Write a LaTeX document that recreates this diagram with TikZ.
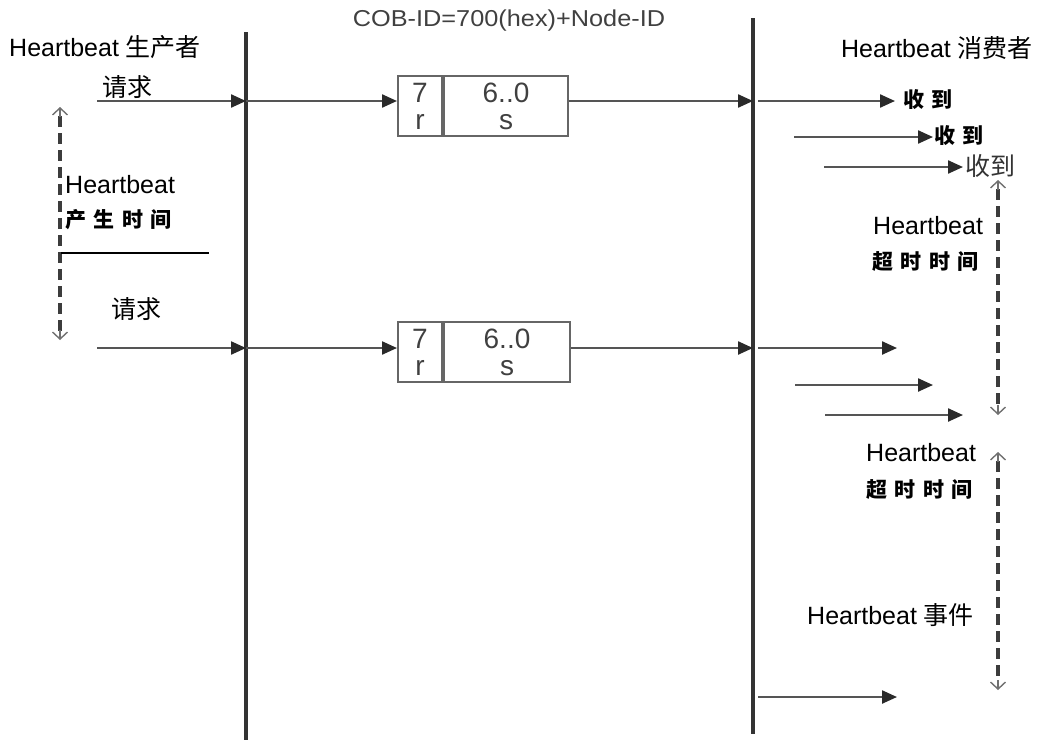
\documentclass[tikz,border=0pt]{standalone}
\usepackage{fontspec}
\setmainfont{Liberation Sans}
\newfontfamily\cjk{Noto Sans CJK SC}
\usetikzlibrary{arrows.meta}
\definecolor{linegray}{HTML}{555555}
\definecolor{headgray}{HTML}{2A2A2A}
\definecolor{dashgray}{HTML}{3C3C3C}
\definecolor{barbgray}{HTML}{707070}
\newcommand{\gp}{\hspace{7.5pt}}
\begin{document}
\begin{tikzpicture}[x=1pt,y=-1pt,
  txt/.style={inner sep=0pt,font=\fontsize{25}{28}\selectfont},
  cjkb/.style={inner sep=0pt,font=\fontsize{21}{24}\selectfont\cjk\bfseries},
  lifeline/.style={draw=black!80,line width=3.2pt},
  msg/.style={draw=linegray,line width=2.3pt,-{Triangle[length=15pt,width=13pt,fill=headgray,color=headgray]}},
  span/.style={draw=dashgray,line width=3.6pt,dash pattern=on 11pt off 6pt},
  barb/.style={draw=barbgray,line width=1.4pt,-{Straight Barb[length=7pt,width=15pt]}},
  fieldbox/.style={draw=black!60,line width=2pt,minimum height=60pt,inner sep=0pt,align=center,font=\fontsize{28}{27}\selectfont,text=black!75}
]
\useasboundingbox (0,0) rectangle (1038,740);
% lifelines
\coordinate (Ltop) at (246,32);
\coordinate (Lbot) at (246,740);
\coordinate (Rtop) at (753,18);
\coordinate (Rbot) at (753,734);
\draw[lifeline] (Ltop) -- (Lbot);
\draw[lifeline] (Rtop) -- (Rbot);
% headers
\node[txt,anchor=west] (prod) at (9,47) {Heartbeat {\cjk 生产者}};
\node[txt,anchor=east] (cons) at (1033,48) {Heartbeat {\cjk 消费者}};
\node[inner sep=0pt,font=\fontsize{23}{25}\selectfont,text=black!75] (cob) at (509,21) {\scalebox{1.1}[1]{COB-ID=700(hex)+Node-ID}};
% boxes
\node[fieldbox,minimum width=44pt] (b1r) at (420,106) {7\\r};
\node[fieldbox,minimum width=124pt,anchor=west] (b1s) at (b1r.east) {6..0\\s};
\node[fieldbox,minimum width=44pt] (b2r) at (420,352) {7\\r};
\node[fieldbox,minimum width=126pt,anchor=west] (b2s) at (b2r.east) {6..0\\s};
% row 1
\coordinate (a1) at (97,101);
\coordinate (l1) at (246,101);
\coordinate (r1) at (753,101);
\coordinate (r1s) at (758,101);
\coordinate (r1e) at (895,101);
\coordinate (r2s) at (794,137);
\coordinate (r2e) at (933,137);
\coordinate (r3s) at (824,167);
\coordinate (r3e) at (963,167);
\node[txt,font=\fontsize{25}{28}\selectfont\cjk] (req1) at (127,87) {请求};
\draw[msg] (a1) -- (l1);
\draw[msg] (l1) -- (l1 -| b1r.west);
\draw[msg] (l1 -| b1s.east) -- (r1);
\draw[msg] (r1s) -- (r1e);
\draw[msg] (r2s) -- (r2e);
\draw[msg] (r3s) -- (r3e);
\node[cjkb,anchor=west] (rec1) at (903,100) {收\gp 到};
\node[cjkb,anchor=west] (rec2) at (934,136) {收\gp 到};
\node[txt,anchor=west,font=\fontsize{25}{28}\selectfont\cjk,text=black!80] (rec3) at (965,166) {收到};
% row 2
\coordinate (a2) at (97,348);
\coordinate (l2) at (246,348);
\coordinate (rr1) at (753,348);
\coordinate (q1s) at (758,348);
\coordinate (q1e) at (897,348);
\coordinate (q2s) at (795,385);
\coordinate (q2e) at (933,385);
\coordinate (q3s) at (825,415);
\coordinate (q3e) at (963,415);
\node[txt,font=\fontsize{25}{28}\selectfont\cjk] (req2) at (136,309) {请求};
\draw[msg] (a2) -- (l2);
\draw[msg] (l2) -- (l2 -| b2r.west);
\draw[msg] (l2 -| b2s.east) -- (rr1);
\draw[msg] (q1s) -- (q1e);
\draw[msg] (q2s) -- (q2e);
\draw[msg] (q3s) -- (q3e);
% last event
\coordinate (e1s) at (758,697);
\coordinate (e1e) at (897,697);
\draw[msg] (e1s) -- (e1e);
% left producer interval
\coordinate (pt) at (60,107);
\coordinate (pb) at (60,340);
\draw[span] ([yshift=-9pt]pt) -- ([yshift=9pt]pb);
\draw[barb] ([yshift=-10pt]pt) -- (pt);
\draw[barb] ([yshift=10pt]pb) -- (pb);
\node[txt,anchor=west] (hb1) at (65,185) {Heartbeat};
\node[cjkb,anchor=west] (gen) at (65,220) {产\gp 生\gp 时\gp 间};
\coordinate (h1) at (61,253);
\coordinate (h2) at (209,253);
\draw[line width=2pt] (h1) -- (h2);
% right timeout intervals
\coordinate (t1t) at (998,180);
\coordinate (t1b) at (998,415);
\coordinate (t2t) at (998,452);
\coordinate (t2b) at (998,690);
\draw[span] ([yshift=-9pt]t1t) -- ([yshift=9pt]t1b);
\draw[barb] ([yshift=-10pt]t1t) -- (t1t);
\draw[barb] ([yshift=10pt]t1b) -- (t1b);
\draw[span] ([yshift=-9pt]t2t) -- ([yshift=9pt]t2b);
\draw[barb] ([yshift=-10pt]t2t) -- (t2t);
\draw[barb] ([yshift=10pt]t2b) -- (t2b);
\node[txt,anchor=west] (hb2) at (873,226) {Heartbeat};
\node[cjkb,anchor=west] (to1) at (872,262) {超\gp 时\gp 时\gp 间};
\node[txt,anchor=west] (hb3) at (866,453) {Heartbeat};
\node[cjkb,anchor=west] (to2) at (866,489) {超\gp 时\gp 时\gp 间};
\node[txt,anchor=west] (ev) at (807,615) {Heartbeat {\cjk 事件}};
\end{tikzpicture}
\end{document}
